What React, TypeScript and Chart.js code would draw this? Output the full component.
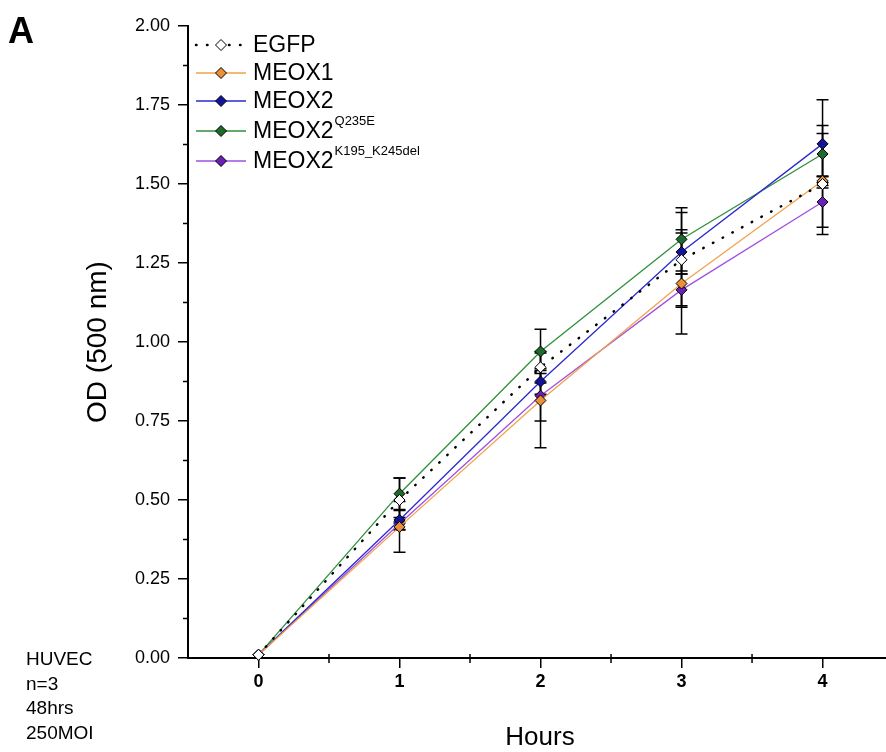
import React, { useEffect, useRef } from 'react';
import { Chart, registerables } from 'chart.js';

Chart.register(...registerables);

const FONT = '"Liberation Sans", Arial, sans-serif';

const hours = [0, 1, 2, 3, 4];
const xTickValues = [0, 1, 2, 3, 4];
const xMinorValues = [-0.5, 0.5, 1.5, 2.5, 3.5];
const yTickStep = 0.25;
const yMinorValues = [0.125, 0.375, 0.625, 0.875, 1.125, 1.375, 1.625, 1.875];

const seriesNames = ['EGFP', 'MEOX1', 'MEOX2', 'MEOX2', 'MEOX2'];
const seriesSup = ['', '', '', 'Q235E', 'K195_K245del'];

const egfp = [0.01, 0.5, 0.92, 1.26, 1.5];
const meox1 = [0.01, 0.415, 0.815, 1.185, 1.51];
const meox2 = [0.01, 0.437, 0.875, 1.285, 1.627];
const meox2Q235E = [0.01, 0.52, 0.97, 1.325, 1.595];
const meox2Del = [0.01, 0.425, 0.83, 1.165, 1.443];

const egfpErr = [0, 0.07, 0.05, 0.15, 0.16];
const meox1Err = [0, 0.08, 0.15, 0.16, 0.015];
const meox2Err = [0, 0.03, 0.04, 0.07, 0.14];
const meox2Q235EErr = [0, 0.05, 0.07, 0.1, 0.09];
const meox2DelErr = [0, 0.02, 0.08, 0.05, 0.08];

const noteLines = ['HUVEC', 'n=3', '48hrs', '250MOI'];

const lineColors = ['#000000', '#f2a24a', '#2a2ad0', '#2f8f3a', '#a050e0'];
const markerColors = ['#ffffff', '#e8913a', '#14149a', '#1d6a2a', '#6a20b8'];

const allValues = [egfp, meox1, meox2, meox2Q235E, meox2Del];
const allErrors = [egfpErr, meox1Err, meox2Err, meox2Q235EErr, meox2DelErr];

const extrasPlugin = {
  id: 'extras',
  beforeDatasetsDraw(chart: any) {
    const ctx = chart.ctx;
    const xs = chart.scales.x;
    const ys = chart.scales.y;
    ctx.save();
    ctx.strokeStyle = '#000';
    ctx.lineWidth = 1.5;
    allValues.forEach((vals, si) => {
      vals.forEach((v, i) => {
        const e = allErrors[si][i];
        if (!e) return;
        const px = xs.getPixelForValue(hours[i]);
        const y1 = ys.getPixelForValue(v - e);
        const y2 = ys.getPixelForValue(v + e);
        ctx.beginPath();
        ctx.moveTo(px, y1);
        ctx.lineTo(px, y2);
        ctx.moveTo(px - 6, y1);
        ctx.lineTo(px + 6, y1);
        ctx.moveTo(px - 6, y2);
        ctx.lineTo(px + 6, y2);
        ctx.stroke();
      });
    });
    ctx.restore();
  },
  afterDraw(chart: any) {
    const ctx = chart.ctx;
    const xs = chart.scales.x;
    const ys = chart.scales.y;
    const area = chart.chartArea;
    ctx.save();
    // minor ticks
    ctx.strokeStyle = '#000';
    ctx.lineWidth = 1.5;
    xMinorValues.forEach((v) => {
      const px = xs.getPixelForValue(v);
      if (px < area.left + 1) return;
      ctx.beginPath();
      ctx.moveTo(px, area.bottom - 4);
      ctx.lineTo(px, area.bottom + 5);
      ctx.stroke();
    });
    yMinorValues.forEach((v) => {
      const py = ys.getPixelForValue(v);
      ctx.beginPath();
      ctx.moveTo(area.left - 5, py);
      ctx.lineTo(area.left, py);
      ctx.stroke();
    });
    // axis titles
    ctx.fillStyle = '#000';
    ctx.font = `26px ${FONT}`;
    ctx.textAlign = 'center';
    ctx.textBaseline = 'alphabetic';
    ctx.fillText('Hours', 540, 745);
    ctx.save();
    ctx.font = `28px ${FONT}`;
    ctx.translate(106, 342);
    ctx.rotate(-Math.PI / 2);
    ctx.fillText('OD (500 nm)', 0, 0);
    ctx.restore();
    // panel letter
    ctx.font = `bold 36px ${FONT}`;
    ctx.textAlign = 'left';
    ctx.fillText('A', 8, 43);
    // notes
    ctx.font = `19px ${FONT}`;
    noteLines.forEach((t, i) => {
      ctx.fillText(t, 26, 665 + i * 24.7);
    });
    // legend
    const rows = [45, 73, 101, 131, 161];
    seriesNames.forEach((name, i) => {
      const cy = rows[i];
      const x0 = 196;
      const x1 = 246;
      const mx = 221;
      ctx.save();
      ctx.strokeStyle = lineColors[i];
      if (i === 0) {
        ctx.lineWidth = 2.5;
        ctx.lineCap = 'round';
        ctx.setLineDash([0.5, 10.5]);
        ctx.beginPath();
        ctx.moveTo(x0, cy);
        ctx.lineTo(x1 + 1, cy);
        ctx.stroke();
      } else {
        ctx.lineWidth = 1.3;
        ctx.beginPath();
        ctx.moveTo(x0, cy);
        ctx.lineTo(x1, cy);
        ctx.stroke();
      }
      ctx.restore();
      // marker
      ctx.save();
      ctx.fillStyle = markerColors[i];
      ctx.strokeStyle = '#000';
      ctx.lineWidth = 1;
      const r = 5.5;
      ctx.beginPath();
      ctx.moveTo(mx, cy - r);
      ctx.lineTo(mx + r, cy);
      ctx.lineTo(mx, cy + r);
      ctx.lineTo(mx - r, cy);
      ctx.closePath();
      ctx.fill();
      ctx.stroke();
      ctx.restore();
      ctx.fillStyle = '#000';
      ctx.font = `23px ${FONT}`;
      ctx.textAlign = 'left';
      ctx.textBaseline = 'middle';
      ctx.fillText(name, 253, cy + 1);
      if (seriesSup[i]) {
        const w = ctx.measureText(name).width;
        ctx.font = `13px ${FONT}`;
        ctx.fillText(seriesSup[i], 253 + w + 1, cy - 10);
      }
    });
    ctx.restore();
  },
};

export default function App() {
  const ref = useRef<HTMLCanvasElement>(null);
  useEffect(() => {
    if (!ref.current) return;
    const datasets = allValues.map((vals, i) => ({
      label: seriesNames[i] + (seriesSup[i] ? ' ' + seriesSup[i] : ''),
      data: vals.map((v, j) => ({ x: hours[j], y: v })),
      borderColor: lineColors[i],
      borderWidth: i === 0 ? 2.5 : 1.3,
      borderDash: i === 0 ? [0.5, 10.5] : [],
      borderCapStyle: i === 0 ? 'round' : 'butt',
      backgroundColor: markerColors[i],
      pointBackgroundColor: markerColors[i],
      pointBorderColor: '#000',
      pointBorderWidth: 1,
      pointStyle: 'rectRot',
      pointRadius: 5.5,
      tension: 0,
      fill: false,
      clip: false,
    }));
    const chart = new Chart(ref.current, {
      type: 'line',
      data: { datasets: datasets as any },
      options: {
        animation: false,
        responsive: false,
        layout: { autoPadding: false, padding: { top: 26, right: 0, bottom: 0, left: 0 } },
        plugins: { legend: { display: false }, tooltip: { enabled: false } },
        scales: {
          x: {
            type: 'linear',
            min: -0.5,
            max: 4.45,
            afterFit: (s: any) => {
              s.height = 94;
            },
            afterBuildTicks: (s: any) => {
              s.ticks = xTickValues.map((v) => ({ value: v }));
            },
            ticks: {
              font: { family: FONT, size: 18, weight: 'bold' },
              color: '#000',
              padding: 3,
              maxRotation: 0,
              callback: (v: any) => String(v),
            },
            grid: {
              drawOnChartArea: false,
              drawTicks: true,
              tickLength: 10,
              color: '#000',
              lineWidth: 1.5,
            },
            border: { display: true, color: '#000', width: 2 },
          },
          y: {
            type: 'linear',
            min: 0,
            max: 2,
            afterFit: (s: any) => {
              s.width = 188;
            },
            ticks: {
              stepSize: yTickStep,
              font: { family: FONT, size: 18 },
              color: '#000',
              padding: 8,
              callback: (v: any) => Number(v).toFixed(2),
            },
            grid: {
              drawOnChartArea: false,
              drawTicks: true,
              tickLength: 10,
              color: '#000',
              lineWidth: 1.5,
            },
            border: { display: true, color: '#000', width: 2 },
          },
        },
      },
      plugins: [extrasPlugin],
    });
    return () => chart.destroy();
  }, []);
  return (
    <div style={{ position: 'fixed', left: 0, top: 0, width: 886, height: 752, background: '#fff' }}>
      <canvas ref={ref} width={886} height={752} style={{ display: 'block' }} />
    </div>
  );
}
